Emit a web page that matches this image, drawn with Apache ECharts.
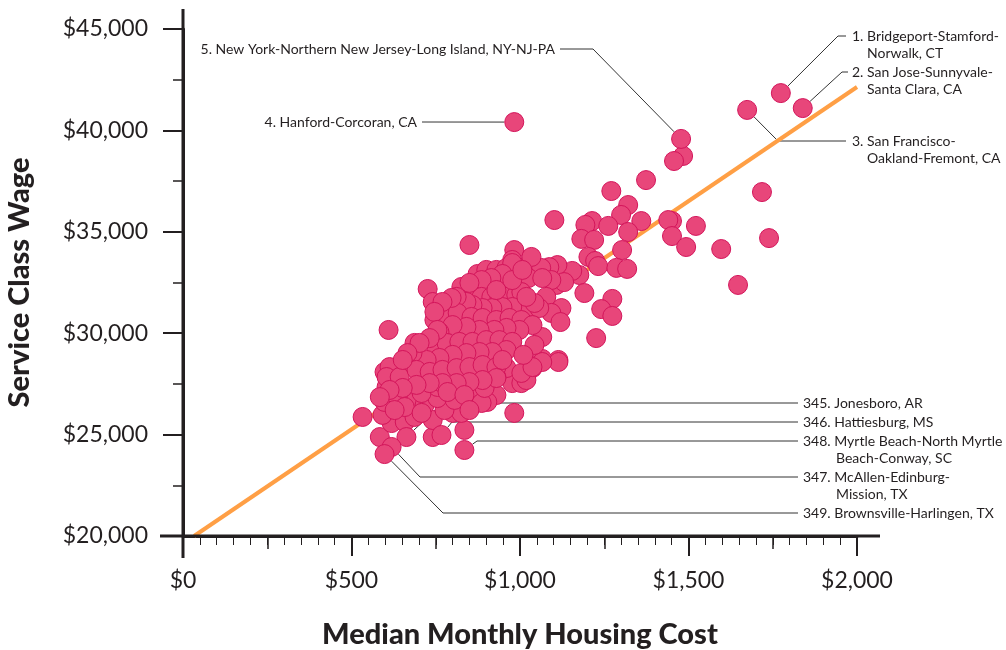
<!DOCTYPE html>
<html>
<head>
<meta charset="utf-8">
<script src="https://cdn.jsdelivr.net/npm/echarts@6/dist/echarts.min.js"></script>
<style>
  html, body { margin: 0; padding: 0; background: #fff; }
  #chart { width: 1006px; height: 650px; }
</style>
</head>
<body>
<div id="chart"></div>
<script>
// median monthly housing cost ($) per metro
// first ten are the labelled ones: 1-5, then 345, 346, 347, 348, 349
var housingCost = [
  1774, 1839, 1674, 983, 1478, 663, 767, 619, 835, 598,
  1484, 1457, 1374, 1271, 1718, 1321, 1300, 1102, 1214, 1194, 1262, 1360, 1451, 1440, 1522,
  1321, 1182, 1220, 1451, 1493, 1597, 1739, 1647, 1303, 1203, 1223, 1232, 1286, 1318, 1176,
  1155, 1111, 1087, 1063, 1108, 1131, 1093, 1191, 1274, 1241, 1274, 1078, 1123, 1093, 1120,
  1066, 1226, 1114, 1066, 850, 983, 1034, 977, 1025, 1066, 610, 726, 741, 746, 687,
  977, 533, 983, 835, 584, 741, 741, 619, 592, 598, 800, 826, 658, 687, 776,
  678, 717, 755, 806, 856, 874, 637, 658, 708, 755, 598, 628, 604, 1114, 1037,
  1004, 960, 930, 930, 903, 886, 895, 1066,
  874, 900, 930, 960, 977, 948, 915, 886, 832, 826, 859, 886, 915, 939, 969,
  989, 1004, 1028, 1057, 1043, 977, 948, 918, 889, 859, 841, 812, 791, 776, 815,
  856, 889, 930, 969, 1004, 1037, 998, 960, 924, 880, 841, 800, 761, 738, 752,
  782, 820, 859, 900, 939, 977, 960, 918, 880, 841, 800, 761, 723, 681, 658,
  613, 604, 643, 693, 732, 770, 812, 850, 889, 930, 948, 1019, 1004, 1037, 930,
  889, 850, 812, 770, 732, 693, 652, 613, 584,
  850, 797, 770, 746, 755, 732, 702, 666, 652, 930, 977, 1007, 1019, 1043, 1010,
  708, 628, 785, 835, 850
];
// service class wage ($), same order
var serviceWage = [
  41840, 41100, 41010, 40410, 39580, 24880, 24980, 24390, 24240, 24040,
  38740, 38490, 37550, 37010, 36960, 36320, 35830, 35580, 35530, 35340, 35290, 35530, 35530, 35580, 35290,
  34990, 34650, 34600, 34790, 34250, 34150, 34690, 32380, 34100, 33760, 33560, 33310, 33220, 33170, 32870,
  33070, 33360, 33260, 33220, 32380, 32520, 32620, 31980, 31690, 31190, 30850, 31790, 31240, 31000, 30550,
  29810, 29760, 28680, 28730, 34350, 34100, 33760, 33610, 32720, 32720, 30160, 32180, 31540, 30650, 29520,
  27540, 25870, 26070, 25230, 24880, 24880, 25720, 25570, 25970, 26610, 26070, 26070, 25620, 25870, 26210,
  26560, 26460, 26800, 26710, 26710, 27200, 26850, 26360, 27050, 27350, 28090, 28040, 27350, 28580, 28280,
  27540, 28280, 27840, 26950, 26610, 26560, 27300, 28580,
  32920, 33120, 33120, 33220, 33460, 32920, 32720, 32620, 32030, 32280, 31880, 31790, 31790, 31790, 32030,
  31880, 32030, 31290, 31240, 31490, 31290, 31290, 31240, 31240, 31390, 31540, 31790, 31290, 30750, 31000,
  30800, 30750, 30650, 30750, 30650, 30400, 30160, 30260, 30160, 30160, 30310, 30400, 30060, 29660, 29170,
  29520, 29570, 29570, 29660, 29660, 29570, 29170, 29070, 29070, 29020, 28930, 28780, 28680, 29020, 28530,
  28330, 27840, 27840, 28190, 28090, 28190, 28280, 28330, 28430, 28330, 28680, 27690, 28040, 28330, 27790,
  27690, 27590, 27540, 27540, 27540, 27450, 27300, 27200, 26850,
  32480, 31740, 31540, 31050, 30160, 29760, 29520, 29020, 28680, 32130, 32620, 33120, 31790, 29420, 28930,
  26070, 26210, 27100, 26950, 26210
];
// fitted trend line ends
var trendCost = [33, 2000];
var trendWage = [20000, 42140];

var labelTexts = [
  ['1. Bridgeport-Stamford-', 'Norwalk, CT'],
  ['2. San Jose-Sunnyvale-', 'Santa Clara, CA'],
  ['3. San Francisco-', 'Oakland-Fremont, CA'],
  ['4. Hanford-Corcoran, CA'],
  ['5. New York-Northern New Jersey-Long Island, NY-NJ-PA'],
  ['345. Jonesboro, AR'],
  ['346. Hattiesburg, MS'],
  ['347. McAllen-Edinburg-', 'Mission, TX'],
  ['348. Myrtle Beach-North Myrtle', 'Beach-Conway, SC'],
  ['349. Brownsville-Harlingen, TX']
];

var FONT = 'Lato, "Noto Sans", sans-serif';
var INK = '#231f20';

var pts = housingCost.map(function (v, i) { return [v, serviceWage[i]]; });
// draw labelled ones last so they sit on top
var shown = pts.slice(10).concat(pts.slice(0, 10));

var myChart = echarts.init(document.getElementById('chart'));

var option = {
  animation: false,
  grid: { left: 183, right: 149, top: 29, bottom: 114, outerBoundsMode: 'none' },
  xAxis: [
    {
      type: 'value',
      min: 0,
      max: 2000,
      interval: 500,
      name: 'Median Monthly Housing Cost',
      nameLocation: 'middle',
      nameGap: 84,
      nameTextStyle: { fontFamily: FONT, fontWeight: 900, fontSize: 29, color: INK },
      splitLine: { show: false },
      axisLine: { lineStyle: { color: INK, width: 3 } },
      axisTick: { length: 20, lineStyle: { color: INK, width: 2 } },
      minorTick: { show: true, splitNumber: 10, length: 9, lineStyle: { color: INK, width: 1 } },
      axisLabel: {
        margin: 33,
        fontFamily: FONT,
        fontSize: 23,
        color: INK,
        formatter: function (v) { return '$' + v.toLocaleString('en-US'); }
      }
    },
    {
      // medium ticks at the $250 marks
      type: 'value',
      min: 0,
      max: 2000,
      interval: 250,
      position: 'bottom',
      splitLine: { show: false },
      axisLine: { show: false },
      axisTick: { length: 13, lineStyle: { color: INK, width: 1.5 } },
      axisLabel: { show: false }
    }
  ],
  yAxis: {
    type: 'value',
    min: 20000,
    max: 45000,
    interval: 5000,
    name: 'Service Class Wage',
    nameLocation: 'middle',
    nameGap: 149,
    nameTextStyle: { fontFamily: FONT, fontWeight: 900, fontSize: 29, color: INK },
    splitLine: { show: false },
    axisLine: { lineStyle: { color: INK, width: 3 } },
    axisTick: { length: 20, lineStyle: { color: INK, width: 2 } },
    minorTick: { show: true, splitNumber: 2, length: 10, lineStyle: { color: INK, width: 1.5 } },
    axisLabel: {
      margin: 35,
      fontFamily: FONT,
      fontSize: 23,
      color: INK,
      formatter: function (v) { return '$' + v.toLocaleString('en-US'); }
    }
  },
  series: [
    {
      type: 'line',
      data: [[trendCost[0], trendWage[0]], [trendCost[1], trendWage[1]]],
      symbol: 'none',
      lineStyle: { color: '#ff9f45', width: 4 },
      z: 2
    },
    {
      type: 'scatter',
      data: shown,
      symbolSize: 19,
      itemStyle: { color: '#e8467a', borderColor: '#d3145a', borderWidth: 1, opacity: 1 },
      z: 3
    }
  ]
};

myChart.setOption(option);

// leader-line layout: text anchor [x, y, align] and elbow points in page pixels
var layout = [
  { text: [852, 36, 'left'], path: [[838, 36], [846, 36]], second: 867 },
  { text: [852, 72, 'left'], path: [[842, 72], [848, 72]], second: 867 },
  { text: [852, 141, 'left'], path: [[778, 141], [846, 141]], second: 867 },
  { text: [417, 122, 'right'], path: [[422, 122]] },
  { text: [555, 49, 'right'], path: [[593, 49], [560, 49]] },
  { text: [803, 403, 'left'], path: [[443, 403], [798, 403]] },
  { text: [803, 422, 'left'], path: [[452, 422], [798, 422]] },
  { text: [803, 477, 'left'], path: [[420, 477], [798, 477]], second: 836 },
  { text: [803, 441, 'left'], path: [[477, 441], [798, 441]], second: 836 },
  { text: [803, 513, 'left'], path: [[443, 513], [798, 513]] }
];

var els = [];
layout.forEach(function (L, i) {
  var p = myChart.convertToPixel({ gridIndex: 0 }, pts[i]);
  var first = L.path[0];
  var dx = first[0] - p[0], dy = first[1] - p[1];
  var d = Math.sqrt(dx * dx + dy * dy);
  var start = [p[0] + dx / d * 10, p[1] + dy / d * 10];
  els.push({
    type: 'polyline',
    shape: { points: [start].concat(L.path) },
    style: { stroke: '#333', lineWidth: 1, fill: null },
    z: 1
  });
  var lines = labelTexts[i];
  els.push({
    type: 'text',
    x: L.text[0],
    y: L.text[1],
    style: {
      text: lines[0],
      font: '14px ' + FONT,
      fill: INK,
      align: L.text[2],
      verticalAlign: 'middle'
    },
    z: 5
  });
  if (lines[1]) {
    els.push({
      type: 'text',
      x: L.second,
      y: L.text[1] + 17,
      style: { text: lines[1], font: '14px ' + FONT, fill: INK, align: 'left', verticalAlign: 'middle' },
      z: 5
    });
  }
});

// axis lines run a little past the plot area
var o = myChart.convertToPixel({ gridIndex: 0 }, [0, 20000]);
var e = myChart.convertToPixel({ gridIndex: 0 }, [2000, 45000]);
els.push({ type: 'line', shape: { x1: o[0], y1: e[1] - 20, x2: o[0], y2: o[1] + 22 }, style: { stroke: INK, lineWidth: 3 }, z: 4 });
els.push({ type: 'line', shape: { x1: o[0] - 23, y1: o[1], x2: e[0] + 23, y2: o[1] }, style: { stroke: INK, lineWidth: 3 }, z: 4 });

myChart.setOption({ graphic: { elements: els } });
</script>
</body>
</html>
